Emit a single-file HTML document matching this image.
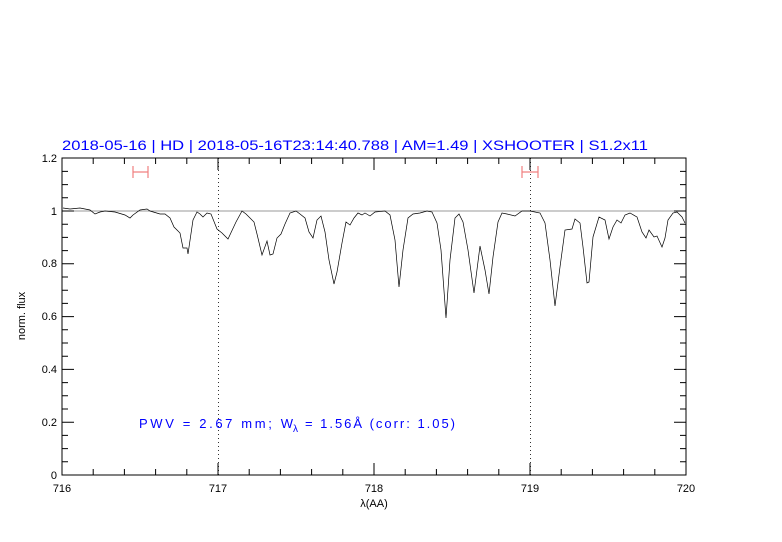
<!DOCTYPE html>
<html><head><style>body{margin:0;background:#fff}svg{display:block}</style></head><body>
<svg width="782" height="542" xmlns="http://www.w3.org/2000/svg" font-family="Liberation Sans, sans-serif">
<rect width="782" height="542" fill="#fff"/>
<text x="62" y="150" fill="#0000ff" font-size="13.5" textLength="586" lengthAdjust="spacingAndGlyphs">2018-05-16 | HD | 2018-05-16T23:14:40.788 | AM=1.49 | XSHOOTER | S1.2x11</text>
<line x1="62" y1="211" x2="686" y2="211" stroke="#999" stroke-width="1"/>
<line x1="218.5" y1="158" x2="218.5" y2="475" stroke="#000" stroke-width="0.8" stroke-dasharray="1,3"/>
<line x1="530.5" y1="158" x2="530.5" y2="475" stroke="#000" stroke-width="0.8" stroke-dasharray="1,3"/>
<g stroke="#f08080" stroke-width="1.2" fill="none">
<path d="M133 172H148M133 166V178M148 166V178"/>
<path d="M522 172H538M522 166V178M538 166V178"/>
</g>
<polyline fill="none" stroke="#000" stroke-width="0.7" points="63,208 70,209 80,208 90,210 95,214 100,212 105,211 115,212 125,215 130,218 133,215 140,210 147,209 150,211 160,214 165,214 170,218 174,227 178,231 180,233 183,248 187,248 188,254 193,220 197,212 200,214 203,217 207,213 211,214 217,229 222,233 228,239 236,222 242,211 246,214 250,218 254,222 257,234 262,255 267,241 270,255 273,254 277,238 281,234 285,224 290,213 296,211 300,214 305,218 309,232 313,238 317,220 321,216 325,232 329,260 334,284 337,272 342,243 346,222 350,225 354,218 358,213 362,215 365,213 370,216 375,212 385,211 390,215 395,240 399,287 403,250 408,218 413,214 420,213 427,211 432,212 437,223 441,250 446,318 450,260 455,218 459,214 463,222 468,250 474,293 480,246 485,270 489,294 493,257 498,222 502,213 507,214 515,216 522,211 530,211 540,213 545,223 550,260 555,306 560,267 565,230 572,229 575,219 580,223 583,247 587,283 589,282 593,237 599,217 605,220 609,239 613,227 617,220 621,223 625,215 630,213 637,217 642,232 646,238 649,230 654,237 657,236 662,247 665,238 668,220 673,213 677,212 682,217 685,223"/>
<rect x="62" y="158" width="624" height="317" fill="none" stroke="#000" stroke-width="1"/>
<g stroke="#000" stroke-width="1">
<path d="M93.2 475v-6M124.4 475v-6M155.6 475v-6M186.8 475v-6M249.2 475v-6M280.4 475v-6M311.6 475v-6M342.8 475v-6M405.2 475v-6M436.4 475v-6M467.6 475v-6M498.8 475v-6M561.2 475v-6M592.4 475v-6M623.6 475v-6M654.8 475v-6"/>
<path d="M218 475v-12M374 475v-12M530 475v-12"/>
<path d="M93.2 158v6M124.4 158v6M155.6 158v6M186.8 158v6M249.2 158v6M280.4 158v6M311.6 158v6M342.8 158v6M405.2 158v6M436.4 158v6M467.6 158v6M498.8 158v6M561.2 158v6M592.4 158v6M623.6 158v6M654.8 158v6"/>
<path d="M218 158v12M374 158v12M530 158v12"/>
<path d="M62 461.8h6M62 448.6h6M62 435.4h6M62 409h6M62 395.8h6M62 382.6h6M62 356.2h6M62 343h6M62 329.8h6M62 303.4h6M62 290.2h6M62 277h6M62 250.6h6M62 237.4h6M62 224.2h6M62 197.8h6M62 184.6h6M62 171.4h6"/>
<path d="M62 422.2h12M62 369.4h12M62 316.6h12M62 263.8h12M62 211h12"/>
<path d="M686 461.8h-6M686 448.6h-6M686 435.4h-6M686 409h-6M686 395.8h-6M686 382.6h-6M686 356.2h-6M686 343h-6M686 329.8h-6M686 303.4h-6M686 290.2h-6M686 277h-6M686 250.6h-6M686 237.4h-6M686 224.2h-6M686 197.8h-6M686 184.6h-6M686 171.4h-6"/>
<path d="M686 422.2h-12M686 369.4h-12M686 316.6h-12M686 263.8h-12M686 211h-12"/>
</g>
<g font-size="11" fill="#000" text-anchor="end">
<text x="57" y="479">0</text><text x="57" y="426">0.2</text><text x="57" y="373">0.4</text><text x="57" y="320">0.6</text><text x="57" y="267">0.8</text><text x="57" y="215">1</text><text x="57" y="162">1.2</text>
</g>
<g font-size="11" fill="#000" text-anchor="middle">
<text x="62" y="492">716</text><text x="218" y="492">717</text><text x="374" y="492">718</text><text x="530" y="492">719</text><text x="686" y="492">720</text>
<text x="374" y="507">λ(AA)</text>
<text transform="translate(25,316) rotate(-90)">norm. flux</text>
</g>
<g fill="#0000ff" font-size="13">
<text x="139" y="428" textLength="154" lengthAdjust="spacing">PWV = 2.67 mm; W</text>
<text x="293" y="432" font-size="10">λ</text>
<text x="305" y="428" textLength="150" lengthAdjust="spacing">= 1.56Å (corr: 1.05)</text>
</g>
</svg>
</body></html>
